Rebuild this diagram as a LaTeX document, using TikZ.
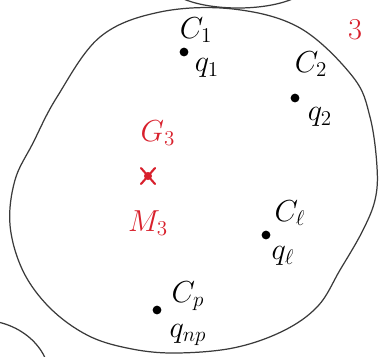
\documentclass[tikz,border=0pt]{standalone}
\usepackage{amsmath}
\usepackage{tikz}
\usetikzlibrary{calc}
\definecolor{pen}{HTML}{3A3A3A}
\definecolor{redpen}{HTML}{D8202C}
\tikzset{
  every picture/.style={line join=round, line cap=round},
  outline/.style={pen, line width=0.7pt},
  charge/.style={circle, fill=black, inner sep=0pt, minimum size=5pt},
  lbl/.style={font=\LARGE, inner sep=1pt},
  redlbl/.style={lbl, text=redpen},
}

\begin{document}
\begin{tikzpicture}[x=0.02cm, y=-0.02cm]
    \useasboundingbox (0,0) rectangle (381,356);
    \clip (0,0) rectangle (381,356);

    % Neighbouring regions (cut by the frame)
    \draw[outline] (238,-18) ellipse (72 and 26);
    \draw[outline] (-20,380) ellipse (70 and 60);

    % Region 3
    \draw[outline] plot[smooth cycle, tension=0.6] coordinates {
        (160,12) (233,9) (300,28) (353,77) (370,117) (377,167) (375,200)
        (362,232) (340,270) (318,306) (283,331) (233,348) (173,353)
        (127,348) (87,335) (50,308) (23,271) (10,225) (15,180) (33,143)
        (57,97) (100,37)};
    \node[redlbl] (num) at (355,30) {$3$};

    % Charges and their carriers
    \foreach \name/\x/\y/\c/\cx/\cy/\q/\qx/\qy in {
        one/184/52/{C_1}/196/30/{q_1}/207/68,
        two/295/98/{C_2}/311/64/{q_2}/320/117,
        ell/266/235/{C_\ell}/290/213/{q_\ell}/283/256,
        p/157/310/{C_p}/188/296/{q_{np}}/188/335} {
        \node[charge] (\name) at (\x,\y) {};
        \node[lbl] (c\name) at (\cx,\cy) {$\c$};
        \node[lbl] (q\name) at (\qx,\qy) {$\q$};
    }

    % Centre of gravity / centre of charge
    \node[redlbl] (G) at (158,133) {$G_3$};
    \coordinate (M) at (148,176);
    \draw[redpen, line width=1.2pt] ($(M)+(-7,-8)$) -- ($(M)+(7,8)$)
        ($(M)+(7,-8)$) -- ($(M)+(-7,8)$);
    \fill[redpen] (M) circle (4);
    \node[redlbl] (Mlbl) at (148,223) {$M_3$};
\end{tikzpicture}
\end{document}
